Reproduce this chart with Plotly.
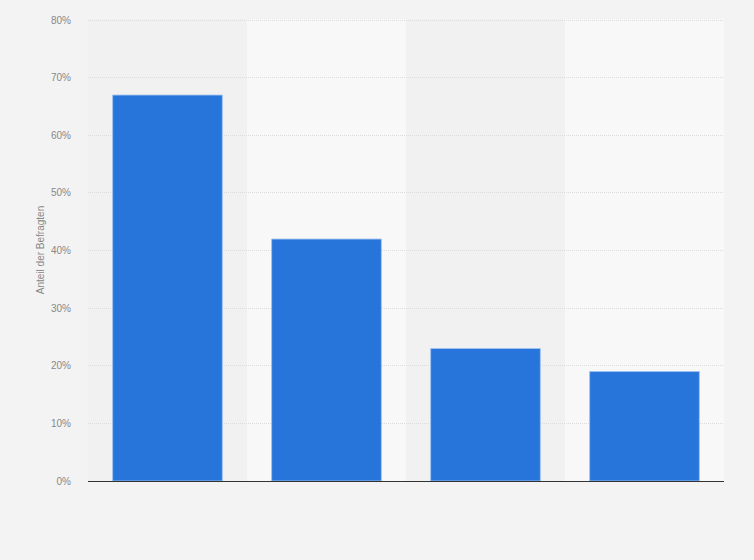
import plotly.graph_objects as go

# values (share of respondents, %)
categories = ["A", "B", "C", "D"]
values = [67, 42, 23, 19]
y_ticks = [0, 10, 20, 30, 40, 50, 60, 70, 80]
y_tick_labels = [f"{t}%" for t in y_ticks]

BAR_COLOR = "#2775db"
PAGE_BG = "#f3f3f3"
TEXT_GRAY = "#888888"

fig = go.Figure()
fig.add_trace(go.Bar(
    x=list(range(len(categories))),
    y=values,
    marker=dict(color=BAR_COLOR, line=dict(color="rgba(160,195,240,0.9)", width=1)),
    hovertext=categories,
    hoverinfo="text+y",
))

# alternating column bands behind the bars
shapes = []
for i in range(len(categories)):
    shapes.append(dict(
        type="rect", xref="x", yref="paper", layer="below",
        x0=i - 0.5, x1=i + 0.5, y0=0, y1=1,
        fillcolor="#f1f1f1" if i % 2 == 0 else "#f8f8f8",
        line=dict(width=0),
    ))

fig.update_layout(
    width=754, height=560,
    paper_bgcolor=PAGE_BG,
    plot_bgcolor=PAGE_BG,
    margin=dict(l=88, r=30, t=19, b=79),
    bargap=0.31,
    showlegend=False,
    shapes=shapes,
    font=dict(family="Liberation Sans, Arial, sans-serif", size=10, color=TEXT_GRAY),
    xaxis=dict(
        range=[-0.5, len(categories) - 0.5],
        showticklabels=False, showgrid=False, zeroline=False,
        showline=True, linecolor="#333333", linewidth=1.2,
        fixedrange=True,
    ),
    yaxis=dict(
        # a hair above 80 so the top grid line is still drawn
        range=[0, 80.2],
        tickvals=y_ticks, ticktext=y_tick_labels,
        showgrid=True, gridcolor="#dcdcdc", griddash="1px,1px", gridwidth=1,
        zeroline=False, showline=False,
        ticks="", ticklabelstandoff=16,
        tickfont=dict(size=10, color=TEXT_GRAY),
        title=dict(text="Anteil der Befragten", font=dict(size=10, color=TEXT_GRAY), standoff=4),
        fixedrange=True,
    ),
)

# drop the browser's default body margin so the figure sits at the page corner
fig.write_html("out.html", config={"displayModeBar": False},
               post_script="document.body.style.margin='0';")
